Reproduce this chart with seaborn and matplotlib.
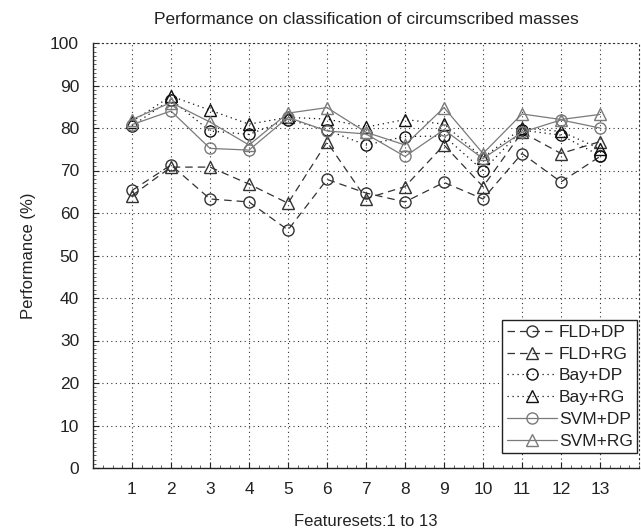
import matplotlib
matplotlib.use("Agg")
import matplotlib.pyplot as plt
import seaborn as sns
import pandas as pd
import numpy as np

featuresets = list(range(1, 14))
fld_dp = [65.3, 71.3, 63.3, 62.6, 56.0, 67.9, 64.7, 62.6, 67.2, 63.3, 74.0, 67.3, 73.3]
fld_rg = [64.1, 70.8, 70.8, 66.8, 62.3, 76.7, 63.4, 66.2, 76.0, 66.2, 79.0, 74.0, 76.8]
bay_dp = [80.5, 86.7, 79.3, 78.5, 82.0, 79.5, 76.0, 78.0, 78.1, 70.0, 79.5, 78.3, 73.5]
bay_rg = [81.5, 87.5, 84.2, 80.9, 82.5, 82.1, 80.2, 82.0, 80.9, 73.0, 80.0, 79.2, 75.1]
svm_dp = [80.8, 84.0, 75.2, 74.8, 82.5, 79.3, 78.6, 73.3, 79.6, 72.8, 79.0, 81.9, 80.0]
svm_rg = [82.0, 86.0, 81.4, 76.0, 83.5, 84.8, 79.0, 76.0, 84.8, 74.0, 83.3, 82.0, 83.2]

series_names = ["FLD+DP", "FLD+RG", "Bay+DP", "Bay+RG", "SVM+DP", "SVM+RG"]
series_vals = [fld_dp, fld_rg, bay_dp, bay_rg, svm_dp, svm_rg]

title = "Performance on classification of circumscribed masses"
xlabel = "Featuresets:1 to 13"
ylabel = "Performance (%)"
yticks = list(range(0, 101, 10))

sns.set_theme(style="white")
plt.rcParams["font.family"] = ["Liberation Sans", "DejaVu Sans"]

styles = {
    "FLD+DP": dict(color="#333333", ls=(0, (6, 4)), marker="o"),
    "FLD+RG": dict(color="#333333", ls=(0, (6, 4)), marker="^"),
    "Bay+DP": dict(color="#111111", ls=(0, (1, 3)), marker="o"),
    "Bay+RG": dict(color="#111111", ls=(0, (1, 3)), marker="^"),
    "SVM+DP": dict(color="#7a7a7a", ls="-", marker="o"),
    "SVM+RG": dict(color="#7a7a7a", ls="-", marker="^"),
}

fig = plt.figure(figsize=(6.41, 5.32), dpi=100)
ax = fig.add_axes([93 / 641, 64 / 532, 546 / 641, 425 / 532])

for name, vals in zip(series_names, series_vals):
    df = pd.DataFrame({"x": featuresets, "y": vals})
    st = styles[name]
    sns.lineplot(data=df, x="x", y="y", ax=ax, color=st["color"], linestyle=st["ls"],
                 linewidth=0.9, marker=st["marker"], markersize=8,
                 markerfacecolor="none", markeredgecolor=st["color"], markeredgewidth=1.0,
                 label=name)

ax.set_xlim(0, 14)
ax.set_ylim(0, 100)
ax.set_xticks(featuresets)
ax.set_yticks(yticks)
ax.set_xticks(np.arange(0, 14.01, 0.25), minor=True)
ax.set_yticks(np.arange(0, 100.01, 1), minor=True)
ax.tick_params(axis="both", which="major", direction="in", length=4, width=0.8,
               labelsize=12.5, pad=10, colors="#222222", labelcolor="#222222")
ax.tick_params(axis="both", which="minor", direction="in", length=2, width=0.5,
               colors="#222222")
ax.tick_params(top=False, right=False, which="both")
ax.tick_params(left=True, bottom=True, which="both")

ax.grid(True, which="major", color="#333333", linestyle=(0, (1, 3)), linewidth=0.8)
for side in ["left", "bottom"]:
    ax.spines[side].set_color("#222222")
    ax.spines[side].set_linewidth(1.0)
for side in ["top", "right"]:
    ax.spines[side].set_color("#333333")
    ax.spines[side].set_linestyle((0, (1, 3)))
    ax.spines[side].set_linewidth(0.8)

ax.set_title(title, fontsize=12.5, color="#222222", pad=14)
ax.set_xlabel(xlabel, fontsize=12, color="#222222", labelpad=12)
ax.set_ylabel(ylabel, fontsize=12, color="#222222", labelpad=10)

leg = ax.legend(loc="lower right", bbox_to_anchor=(637 / 641, 79 / 532),
                bbox_transform=fig.transFigure, borderaxespad=0, fontsize=12.5,
                frameon=True, fancybox=False, handlelength=2.9, handletextpad=0.1,
                labelspacing=0.38, borderpad=0.25)
leg.get_frame().set_edgecolor("#222222")
leg.get_frame().set_linewidth(1.0)
leg.get_frame().set_alpha(1)
for t in leg.get_texts():
    t.set_color("#222222")

fig.savefig("out.png", dpi=100)
